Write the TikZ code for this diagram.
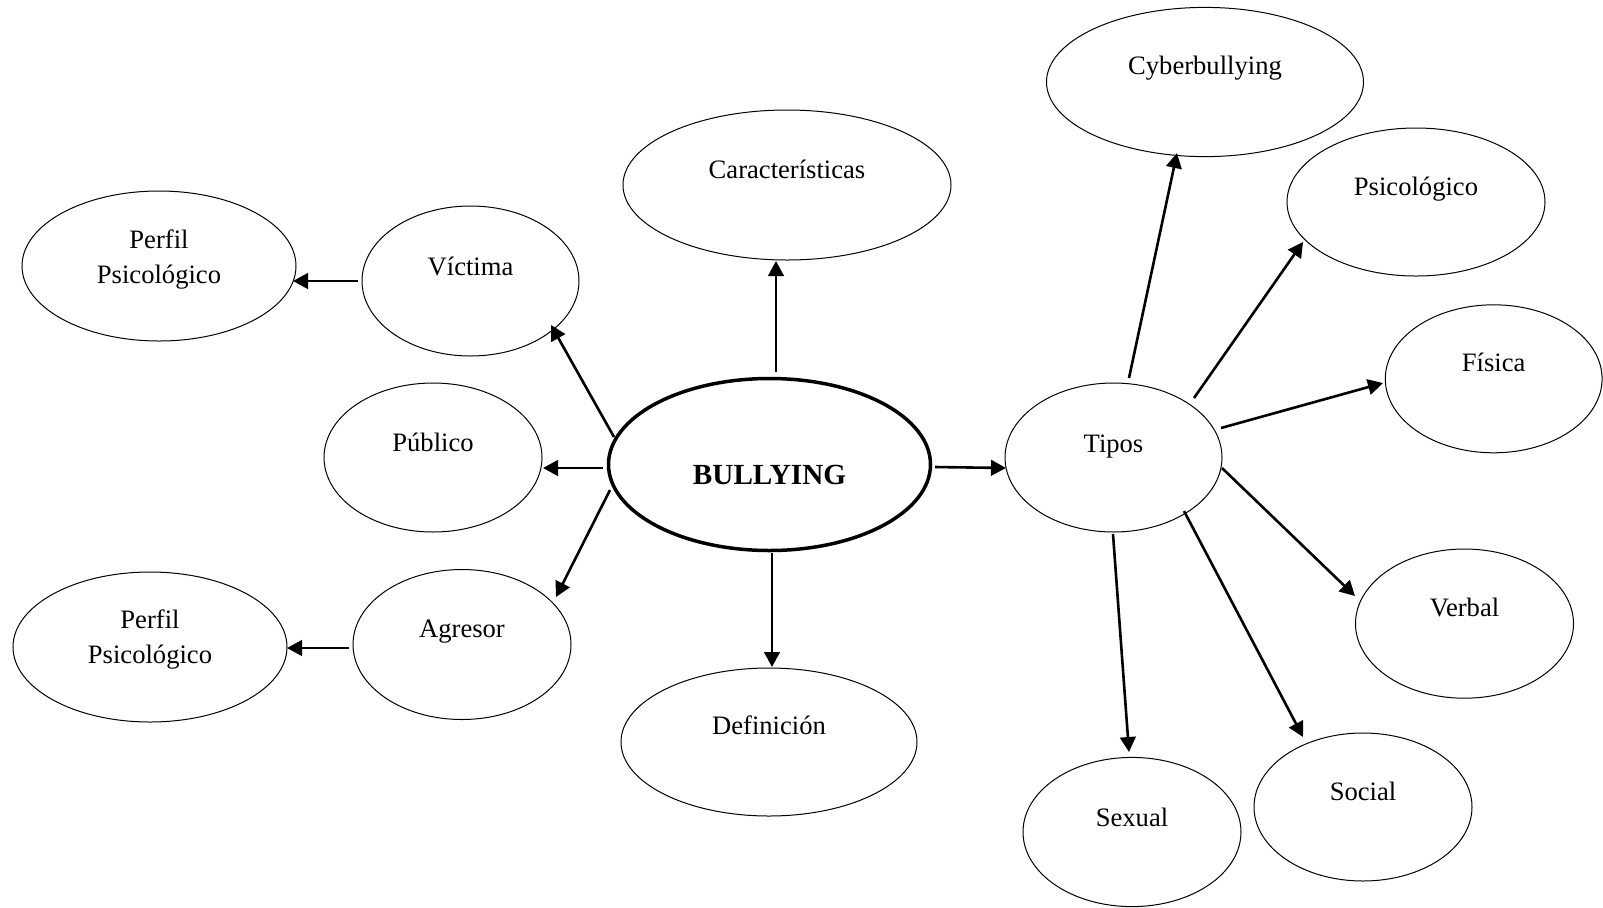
\documentclass[tikz,border=0pt]{standalone}
\usepackage{fontspec}
\setmainfont{Liberation Serif}
\usetikzlibrary{shapes.geometric,arrows.meta,calc}
\begin{document}
\begin{tikzpicture}[x=0.5pt,y=-0.5pt,
  bub/.style={ellipse,draw,line width=0.5pt,inner sep=0pt,outer sep=0pt},
  lbl/.style={inner sep=0pt,anchor=base,font=\fontsize{13.3}{17.5}\selectfont,align=center},
  arr/.style={line width=1.3pt,-{Triangle[length=7.5pt,width=7.8pt]}}]
\useasboundingbox (0,0) rectangle (1603,907);
% ellipses
\node[bub,line width=1.75pt,minimum width=161pt,minimum height=86pt] (bul) at (769.5,464.5) {};
\node[bub,minimum width=164pt,minimum height=75pt] (car) at (787,185) {};
\node[bub,minimum width=108.5pt,minimum height=75pt] (vic) at (470.5,281) {};
\node[bub,minimum width=137pt,minimum height=75pt] (pt) at (159,266) {};
\node[bub,minimum width=109pt,minimum height=74.5pt] (pub) at (433,457.5) {};
\node[bub,minimum width=109pt,minimum height=75pt] (agr) at (462,644.5) {};
\node[bub,minimum width=137pt,minimum height=75pt] (pb) at (150,647) {};
\node[bub,minimum width=148pt,minimum height=74pt] (def) at (769,742) {};
\node[bub,minimum width=108.5pt,minimum height=74.5pt] (tip) at (1113.5,457.5) {};
\node[bub,minimum width=158.5pt,minimum height=74.6pt] (cyb) at (1205,82) {};
\node[bub,minimum width=129pt,minimum height=74pt] (psi) at (1416,202) {};
\node[bub,minimum width=108.4pt,minimum height=74pt] (fis) at (1493.7,378.8) {};
\node[bub,minimum width=109pt,minimum height=74.6pt] (ver) at (1464.5,623.6) {};
\node[bub,minimum width=109pt,minimum height=74pt] (soc) at (1363,807) {};
\node[bub,minimum width=109pt,minimum height=74.6pt] (sex) at (1132,832) {};
% labels
\node[lbl,font=\fontsize{14.6}{17.5}\selectfont\bfseries] (tbul) at ($(bul.center)+(0,19.5)$) {BULLYING};
\node[lbl] (tcar) at ($(car.center)+(0,-7)$) {Características};
\node[lbl] (tvic) at ($(vic.center)+(0,-6)$) {Víctima};
\node[lbl] (tpt) at ($(pt.center)+(0,17)$) {Perfil\\Psicológico};
\node[lbl] (tpub) at ($(pub.center)+(0,-6)$) {Público};
\node[lbl] (tagr) at ($(agr.center)+(0,-7.5)$) {Agresor};
\node[lbl] (tpb) at ($(pb.center)+(0,16)$) {Perfil\\Psicológico};
\node[lbl] (tdef) at ($(def.center)+(0,-8)$) {Definición};
\node[lbl] (ttip) at ($(tip.center)+(0,-5.5)$) {Tipos};
\node[lbl] (tcyb) at ($(cyb.center)+(0,-8)$) {Cyberbullying};
\node[lbl] (tpsi) at ($(psi.center)+(0,-7)$) {Psicológico};
\node[lbl] (tfis) at ($(fis.center)+(0,-7)$) {Física};
\node[lbl] (tver) at ($(ver.center)+(0,-7.5)$) {Verbal};
\node[lbl] (tsoc) at ($(soc.center)+(0,-7)$) {Social};
\node[lbl] (tsex) at ($(sex.center)+(0,-6)$) {Sexual};
% connectors
\draw[arr] ($(bul.center)+(6.5,-92.5)$) -- ($(car.center)+(-11,76)$);
\draw[arr] ($(bul.center)+(-155.5,-27.5)$) -- ($(vic.center)+(80.5,44)$);
\draw[arr] ($(bul.center)+(-166.5,3.5)$) -- ($(pub.center)+(110,10.5)$);
\draw[arr] ($(bul.center)+(-159.5,25.5)$) -- ($(agr.center)+(94,-47.5)$);
\draw[arr] ($(vic.center)+(-112.5,0)$) -- ($(pt.center)+(134,15)$);
\draw[arr] ($(agr.center)+(-113,3.5)$) -- ($(pb.center)+(137,1)$);
\draw[arr] ($(bul.center)+(2.5,88.5)$) -- ($(def.center)+(3,-75)$);
\draw[arr] ($(bul.center)+(165.5,2.5)$) -- ($(tip.center)+(-107.5,10.5)$);
\draw[arr] ($(tip.center)+(15.5,-79.5)$) -- ($(cyb.center)+(-28,71)$);
\draw[arr] ($(tip.center)+(80.5,-59.5)$) -- ($(psi.center)+(-113,40)$);
\draw[arr] ($(tip.center)+(107.5,-29.5)$) -- ($(fis.center)+(-110.7,4.2)$);
\draw[arr] ($(tip.center)+(108.5,10.5)$) -- ($(ver.center)+(-109.5,-27.6)$);
\draw[arr] ($(tip.center)+(70.5,53.5)$) -- ($(soc.center)+(-60,-70)$);
\draw[arr] ($(tip.center)+(-0.5,76.5)$) -- ($(sex.center)+(-3,-80)$);
\end{tikzpicture}
\end{document}
